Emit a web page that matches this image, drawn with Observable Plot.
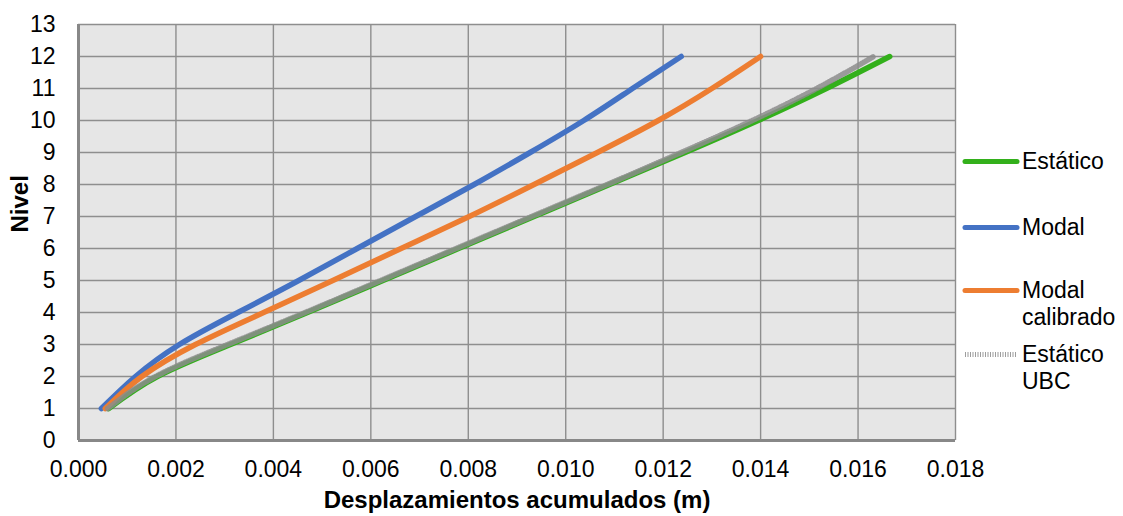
<!DOCTYPE html>
<html>
<head>
<meta charset="utf-8">
<script src="https://cdn.jsdelivr.net/npm/d3@7"></script>
<script src="https://cdn.jsdelivr.net/npm/@observablehq/plot@0.6"></script>
<style>
  html, body { margin: 0; padding: 0; background: #ffffff; }
  #wrap { position: relative; width: 1123px; height: 516px; font-family: "Liberation Sans", Arial, sans-serif; }
  #legend { position: absolute; left: 0; top: 0; }
  .leg-item { position: absolute; left: 960px; display: flex; align-items: flex-start; }
  .leg-item svg { display: block; }
  .leg-text { font-size: 23px; line-height: 27px; color: #000; margin-left: 2px; white-space: nowrap; }
</style>
</head>
<body>
<div id="wrap"><div id="chart"></div><div id="legend"></div></div>
<script>
// ---- data ----
const levels = [1, 2, 3, 4, 5, 6, 7, 8, 9, 10, 11, 12];
const seriesNames = ["Estático", "Modal", "Modal calibrado", "Estático UBC"];
const estatico = [0.00062, 0.00162, 0.00312, 0.0047, 0.00625, 0.0078, 0.00935, 0.0109, 0.01245, 0.01395, 0.01535, 0.01665];
const modal = [0.00047, 0.00117, 0.00207, 0.00327, 0.00452, 0.00572, 0.00692, 0.00812, 0.00927, 0.01037, 0.01137, 0.01237];
const modalCalibrado = [0.00055, 0.0013, 0.0024, 0.0038, 0.00522, 0.00662, 0.00802, 0.00935, 0.01065, 0.0119, 0.013, 0.0140];
const estaticoUBC = [0.0006, 0.00158, 0.00306, 0.00465, 0.0062, 0.00775, 0.0093, 0.01085, 0.01237, 0.01383, 0.01515, 0.01632];
const xTicks = [0, 0.002, 0.004, 0.006, 0.008, 0.010, 0.012, 0.014, 0.016, 0.018];
const yTicks = [0, 1, 2, 3, 4, 5, 6, 7, 8, 9, 10, 11, 12, 13];
const xLabel = "Desplazamientos acumulados (m)";
const yLabel = "Nivel";

const colors = {"Estático": "#33b01b", "Modal": "#4472c4", "Modal calibrado": "#ed7d31", "Estático UBC": "#8c8c8c"};
const valuesBySeries = [estatico, modal, modalCalibrado, estaticoUBC];
const rows = [];
seriesNames.forEach((name, i) => {
  levels.forEach((lv, j) => rows.push({serie: name, x: valuesBySeries[i][j], nivel: lv}));
});
const rowsOf = name => rows.filter(d => d.serie === name);

const chart = Plot.plot({
  width: 1123,
  height: 516,
  marginLeft: 78,
  marginRight: 168,
  marginTop: 24,
  marginBottom: 76,
  style: {fontFamily: "Liberation Sans, Arial, sans-serif", fontSize: "23px", background: "#ffffff", color: "#000"},
  x: {domain: [0, 0.018]},
  y: {domain: [0, 13]},
  marks: [
    Plot.frame({fill: "#e6e6e6", stroke: null}),
    Plot.gridX(xTicks, {stroke: "#8e8e8e", strokeOpacity: 1, strokeWidth: 1.4}),
    Plot.gridY(yTicks, {stroke: "#8e8e8e", strokeOpacity: 1, strokeWidth: 1.4}),
    Plot.ruleY([0], {stroke: "#888888", strokeWidth: 3}),
    Plot.ruleX([0], {stroke: "#888888", strokeWidth: 3}),
    Plot.axisX(xTicks, {tickSize: 0, tickPadding: 20, tickFormat: d3.format(".3f"), fontSize: 23, label: null}),
    Plot.axisY(yTicks, {tickSize: 0, tickPadding: 23, fontSize: 23, label: null}),
    Plot.line(rowsOf("Estático"), {x: "x", y: "nivel", stroke: colors["Estático"], strokeWidth: 5.5, curve: "natural", strokeLinecap: "round", strokeLinejoin: "round"}),
    Plot.line(rowsOf("Modal"), {x: "x", y: "nivel", stroke: colors["Modal"], strokeWidth: 5.5, curve: "natural", strokeLinecap: "round", strokeLinejoin: "round"}),
    Plot.line(rowsOf("Modal calibrado"), {x: "x", y: "nivel", stroke: colors["Modal calibrado"], strokeWidth: 5.5, curve: "natural", strokeLinecap: "round", strokeLinejoin: "round"}),
    Plot.line(rowsOf("Estático UBC"), {x: "x", y: "nivel", stroke: colors["Estático UBC"], strokeWidth: 5.5, strokeOpacity: 0.85, strokeDasharray: "1,1.5", curve: "natural", strokeLinejoin: "round"}),
    Plot.text([xLabel], {frameAnchor: "bottom", lineAnchor: "middle", dy: 60, fontWeight: "bold", fontSize: 24}),
    Plot.text([yLabel], {frameAnchor: "left", lineAnchor: "middle", dx: -58, rotate: -90, fontWeight: "bold", fontSize: 24})
  ]
});
document.getElementById("chart").appendChild(chart);

// ---- legend ----
const legendItems = [
  {name: "Estático", lines: ["Estático"], top: 148},
  {name: "Modal", lines: ["Modal"], top: 214},
  {name: "Modal calibrado", lines: ["Modal", "calibrado"], top: 277},
  {name: "Estático UBC", lines: ["Estático", "UBC"], top: 341}
];
const legend = d3.select("#legend");
legendItems.forEach(item => {
  const div = legend.append("div").attr("class", "leg-item").style("top", item.top + "px");
  const svg = div.append("svg").attr("width", 60).attr("height", 27);
  const ln = svg.append("line").attr("x1", 5).attr("x2", 57).attr("y1", 13.5).attr("y2", 13.5)
    .attr("stroke", colors[item.name]).attr("stroke-width", 5);
  if (item.name === "Estático UBC") ln.attr("stroke-dasharray", "1,1.5").attr("stroke-opacity", 0.85);
  else ln.attr("stroke-linecap", "round");
  div.append("div").attr("class", "leg-text").html(item.lines.join("<br>"));
});
</script>
</body>
</html>
